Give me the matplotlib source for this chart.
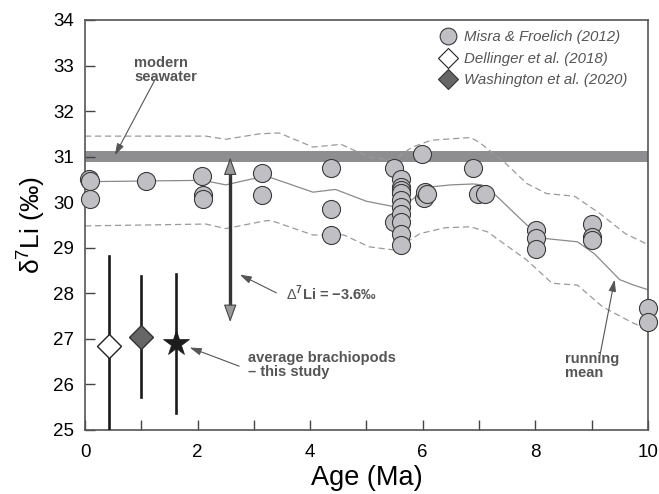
import numpy as np
import matplotlib
matplotlib.use("Agg")
import matplotlib.pyplot as plt
from matplotlib.lines import Line2D

plt.rcParams['font.family'] = ['Liberation Sans', 'DejaVu Sans']
plt.rcParams['mathtext.fontset'] = 'custom'
plt.rcParams['mathtext.rm'] = 'Liberation Sans'
plt.rcParams['mathtext.bf'] = 'Liberation Sans:bold'

# Misra & Froelich (2012) seawater record
misra_age = [0.07, 0.09, 0.09, 1.08, 2.08, 2.1, 2.1, 3.14, 3.14,
             4.37, 4.37, 4.37, 5.49, 5.49,
             5.61, 5.62, 5.61, 5.62, 5.61, 5.62, 5.61, 5.62, 5.61, 5.62,
             5.98, 6.03, 6.05, 6.07, 6.9, 6.99, 7.1,
             8.01, 8.01, 8.01, 9.01, 9.01, 9.01, 10.0, 10.0]
misra_d7li = [30.5, 30.46, 30.08, 30.47, 30.58, 30.15, 30.07, 30.65, 30.15,
              30.74, 29.86, 29.28, 30.76, 29.57,
              30.5, 30.34, 30.26, 30.2, 30.04, 29.9, 29.75, 29.57, 29.31, 29.06,
              31.05, 30.1, 30.23, 30.18, 30.76, 30.19, 30.18,
              29.4, 29.22, 28.97, 29.53, 29.24, 29.18, 27.68, 27.36]

# running mean and its envelope
mean_age = [0, 2.1, 2.5, 3.0, 3.3, 4.05, 4.45, 5.0, 5.5, 5.7, 6.1, 6.5, 6.9,
            7.05, 7.3, 7.85, 8.2, 8.75, 9.05, 9.5, 9.75, 10]
mean_d7li = [30.45, 30.48, 30.38, 30.52, 30.54, 30.22, 30.28, 30.02, 29.9, 29.95,
             30.33, 30.38, 30.4, 30.38, 30.15, 29.5, 29.2, 29.13, 28.87, 28.3,
             28.18, 28.08]
upper_age = [0, 2.15, 2.5, 3.1, 3.45, 4.05, 4.55, 4.85, 5.1, 5.5, 5.8, 6.15, 6.85,
             7.0, 7.45, 7.85, 8.2, 8.7, 9.15, 9.6, 10]
upper_d7li = [31.45, 31.45, 31.38, 31.5, 31.52, 31.21, 31.27, 31.1, 30.97, 30.93,
              31.2, 31.36, 31.42, 31.32, 30.88, 30.41, 30.19, 30.13, 29.75, 29.31, 29.07]
lower_age = [0, 2.15, 2.5, 3.2, 3.3, 4.05, 4.6, 5.05, 5.5, 5.95, 6.4, 6.85, 7.15,
             7.85, 8.3, 8.75, 9.2, 9.75, 10]
lower_d7li = [29.48, 29.52, 29.42, 29.59, 29.6, 29.28, 29.28, 29.02, 28.95, 29.31,
              29.44, 29.46, 29.35, 28.73, 28.22, 28.18, 27.7, 27.34, 27.22]

# averages with 2 sd ranges
dell_age, dell_val, dell_lo, dell_hi = 0.43, 26.85, 24.9, 28.82
wash_age, wash_val, wash_lo, wash_hi = 1.0, 27.05, 25.73, 28.38
this_age, this_val, this_lo, this_hi = 1.62, 26.91, 25.38, 28.42

seawater = 31.0

fig = plt.figure(figsize=(6.59, 4.94), dpi=100)
ax = fig.add_axes([0.129, 0.1296, 0.854, 0.830])

ax.axhspan(seawater - 0.12, seawater + 0.12, color='#8e8e90', lw=0, zorder=1)

ax.plot(mean_age, mean_d7li, color='#8a8a8a', lw=0.9, zorder=2)
ax.plot(upper_age, upper_d7li, color='#9a9a9a', lw=0.9, dashes=(5, 3), zorder=2)
ax.plot(lower_age, lower_d7li, color='#9a9a9a', lw=0.9, dashes=(5, 3), zorder=2)

ax.plot(misra_age, misra_d7li, 'o', ms=13, mfc='#c0c0c4', mec='#3a3a3a', mew=0.8,
        ls='none', zorder=5, clip_on=False)

# error bars
for a, lo, hi in [(dell_age, dell_lo, dell_hi), (wash_age, wash_lo, wash_hi),
                  (this_age, this_lo, this_hi)]:
    ax.plot([a, a], [lo, hi], color='#1a1a1a', lw=1.9, zorder=3, clip_on=True)
ax.plot(dell_age, dell_val, 'D', ms=12, mfc='white', mec='#222222', mew=1.0, zorder=6)
ax.plot(wash_age, wash_val, 'D', ms=12, mfc='#666666', mec='#333333', mew=1.0, zorder=6)
ax.plot(this_age, this_val, '*', ms=19, mfc='#1c1c1c', mec='#1c1c1c', mew=0.5, zorder=6)

# double arrow for the offset
arr_x, arr_top, arr_bot = 2.58, 30.98, 27.37
ax.plot([arr_x, arr_x], [arr_bot + 0.3, arr_top - 0.3], color='#333333', lw=2.4, zorder=4)
for tip, tail in [(arr_top, arr_top - 0.45), (arr_bot, arr_bot + 0.45)]:
    ax.annotate('', xy=(arr_x, tip), xytext=(arr_x, tail),
                arrowprops=dict(arrowstyle='-|>,head_length=1.1,head_width=0.4',
                                fc='#9a9a9a', ec='#444444', lw=0.8,
                                shrinkA=0, shrinkB=0), zorder=4)

txtc = '#555555'
thin = dict(arrowstyle='-|>,head_length=0.7,head_width=0.22', color='#555555',
            lw=0.8, shrinkA=0, shrinkB=0)
ax.text(0.87, 32.9, 'modern\nseawater', fontsize=10.5, fontweight='bold', color=txtc,
        linespacing=0.95, va='center', ha='left')
ax.annotate('', xy=(0.53, 31.03), xytext=(1.24, 32.68), arrowprops=thin)

ax.text(3.57, 28.0, r'$\Delta^{\mathbf{7}}$Li = −3.6‰', fontsize=10.5, fontweight='bold',
        color=txtc, va='center', ha='left')
ax.annotate('', xy=(2.75, 28.41), xytext=(3.4, 28.01), arrowprops=thin)

ax.text(2.9, 26.43, 'average brachiopods\n– this study', fontsize=10.5, fontweight='bold',
        color=txtc, va='center', ha='left', linespacing=0.95)
ax.annotate('', xy=(1.86, 26.81), xytext=(2.74, 26.4), arrowprops=thin)

ax.text(8.53, 26.4, 'running\nmean', fontsize=10.5, fontweight='bold', color=txtc,
        va='center', ha='left', linespacing=0.95)
ax.annotate('', xy=(9.41, 28.3), xytext=(9.15, 26.64), arrowprops=thin)

handles = [
    Line2D([], [], marker='o', ls='none', ms=12, mfc='#c0c0c4', mec='#3a3a3a', mew=0.8),
    Line2D([], [], marker='D', ls='none', ms=10, mfc='white', mec='#222222', mew=0.8),
    Line2D([], [], marker='D', ls='none', ms=10, mfc='#666666', mec='#333333', mew=0.8),
]
labels = ['Misra & Froelich (2012)', 'Dellinger et al. (2018)', 'Washington et al. (2020)']
leg = ax.legend(handles, labels, loc='upper right', bbox_to_anchor=(0.983, 1.0),
                frameon=False, prop=dict(style='italic', size=10.8),
                handletextpad=0.5, labelspacing=0.5, handlelength=1.2,
                borderaxespad=0.3)
for t in leg.get_texts():
    t.set_color('#555555')

ax.set_xlim(0, 10)
ax.set_ylim(25, 34)
ax.set_xticks([0, 2, 4, 6, 8, 10])
ax.set_xticks([1, 3, 5, 7, 9], minor=True)
ax.set_yticks(np.arange(25, 35, 1))
ax.tick_params(direction='in', length=7, width=1, color='#444444', labelsize=13.5,
               pad=8, top=False, right=False)
ax.tick_params(axis='x', which='minor', direction='in', length=7, width=1, color='#444444')
ax.tick_params(axis='x', pad=10)
for s in ax.spines.values():
    s.set_color('#555555')
    s.set_linewidth(1.2)

ax.set_xlabel('Age (Ma)', fontsize=19.5, labelpad=3)
ax.set_ylabel('δ$^{7}$Li (‰)', fontsize=19, labelpad=4)

fig.savefig('out.png', dpi=100)
